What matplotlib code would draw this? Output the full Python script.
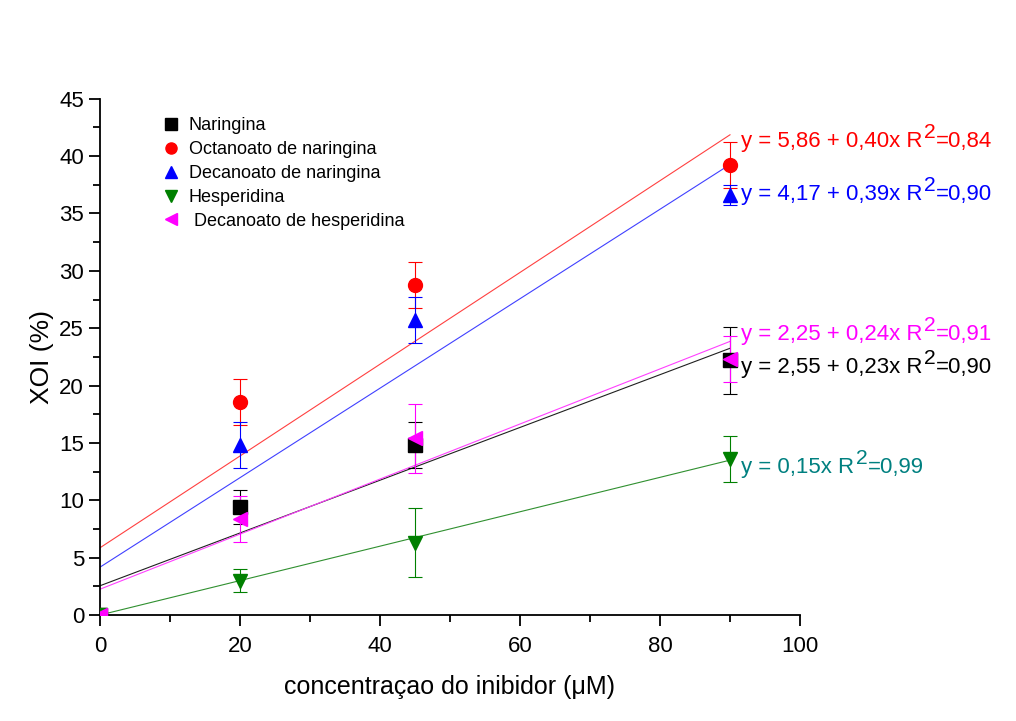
import numpy as np
import matplotlib.pyplot as plt
from matplotlib.ticker import MultipleLocator
from matplotlib.lines import Line2D

plt.rcParams['font.family'] = ['Liberation Sans', 'DejaVu Sans']

# concentrações testadas (uM)
conc = [0, 20, 45, 90]

# inibição da XO (%) e desvios
naringina = [0, 9.4, 14.8, 22.2]
naringina_err = [0, 1.5, 2.0, 2.9]
octanoato_nar = [0, 18.6, 28.8, 39.2]
octanoato_nar_err = [0, 2.0, 2.0, 2.0]
decanoato_nar = [0, 14.8, 25.7, 36.6]
decanoato_nar_err = [0, 2.0, 2.0, 0.9]
hesperidina = [0, 3.0, 6.3, 13.6]
hesperidina_err = [0, 1.0, 3.0, 2.0]
decanoato_hesp = [0, 8.4, 15.4, 22.3]
decanoato_hesp_err = [0, 2.0, 3.0, 2.0]

# ajustes lineares: (intercepto, inclinação, R2)
fit_nar = (2.55, 0.23, '0,90')
fit_oct = (5.86, 0.40, '0,84')
fit_dec = (4.17, 0.39, '0,90')
fit_hesp = (0.0, 0.15, '0,99')
fit_dech = (2.25, 0.24, '0,91')

series = [
    ('Naringina', naringina, naringina_err, fit_nar, 's', 'black', '#202020'),
    ('Octanoato de naringina', octanoato_nar, octanoato_nar_err, fit_oct, 'o', 'red', '#ff4040'),
    ('Decanoato de naringina', decanoato_nar, decanoato_nar_err, fit_dec, '^', 'blue', '#4040ff'),
    ('Hesperidina', hesperidina, hesperidina_err, fit_hesp, 'v', 'green', '#309030'),
    (' Decanoato de hesperidina', decanoato_hesp, decanoato_hesp_err, fit_dech, '<', 'magenta', '#ff40ff'),
]

fig = plt.figure(figsize=(10.16, 7.21), dpi=100)
ax = fig.add_axes([0.0984, 0.147, 0.689, 0.716])

xfit = np.array([0, 90])
handles = []
for label, y, err, fit, mk, cor, cor_linha in series:
    a, b, r2 = fit
    ax.plot(xfit, a + b * xfit, color=cor_linha, lw=0.8, zorder=2)
    ax.errorbar(conc, y, yerr=err, fmt=mk, color=cor, ms=10, ecolor=cor,
                elinewidth=0.8, capsize=5, capthick=0.8, zorder=3)
    handles.append(Line2D([], [], ls='none', marker=mk, color=cor, ms=8, label=label))


# equações dos ajustes à direita, com o "2" do R² sobrescrito
def eq_text(x, y, fit, cor, fs=16):
    a, b, r2 = fit
    sb = f'{b:.2f}'.replace('.', ',')
    if a == 0:
        s = f'y = {sb}x R'
    else:
        sa = f'{a:.2f}'.replace('.', ',')
        s = f'y = {sa} + {sb}x R'
    t1 = ax.text(x, y, s, color=cor, fontsize=fs, va='baseline', ha='left')
    t2 = ax.annotate('2', xy=(1, 0), xycoords=t1, xytext=(1, 7),
                     textcoords='offset points', color=cor, fontsize=fs * 0.95,
                     va='bottom', ha='left')
    ax.annotate('=' + r2, xy=(1, 0), xycoords=(t2, t1), color=cor,
                fontsize=fs, va='bottom', ha='left')


eq_pos = [(fit_oct, 40.8, 'red'), (fit_dec, 36.2, 'blue'),
          (fit_dech, 24.0, 'magenta'), (fit_nar, 21.1, 'black'),
          (fit_hesp, 12.4, '#008080')]
for fit, ypos, cor in eq_pos:
    eq_text(91.6, ypos, fit, cor)

ax.set_xlim(0, 100)
ax.set_ylim(0, 45)
ax.xaxis.set_major_locator(MultipleLocator(20))
ax.xaxis.set_minor_locator(MultipleLocator(10))
ax.yaxis.set_major_locator(MultipleLocator(5))
ax.yaxis.set_minor_locator(MultipleLocator(2.5))
ax.tick_params(which='major', direction='out', length=8, width=1.3, labelsize=16)
ax.tick_params(axis='x', which='major', pad=7)
ax.tick_params(which='minor', direction='out', length=5, width=1.3)
ax.spines['top'].set_visible(False)
ax.spines['right'].set_visible(False)
ax.spines['left'].set_linewidth(1.3)
ax.spines['bottom'].set_linewidth(1.3)

ax.set_xlabel('concentraçao do inibidor (μM)', fontsize=18, labelpad=13)
ax.set_ylabel('XOI (%)', fontsize=19, labelpad=4)

ax.legend(handles=handles, loc='upper left', bbox_to_anchor=(0.075, 0.978),
          frameon=False, fontsize=13, handletextpad=0.4, labelspacing=0.38,
          handlelength=1.2, borderaxespad=0)

fig.savefig('out.png', dpi=100)
